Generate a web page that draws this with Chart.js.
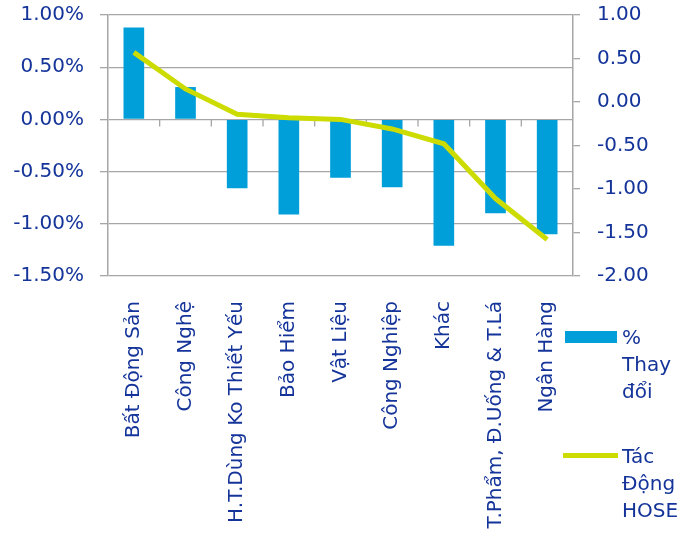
<!DOCTYPE html>
<html>
<head>
<meta charset="utf-8">
<script src="https://cdn.jsdelivr.net/npm/chart.js@4.4.1/dist/chart.umd.min.js"></script>
<style>
  html, body { margin: 0; padding: 0; background: #fff; }
  #wrap { position: relative; width: 690px; height: 553px; overflow: hidden; }
  #legend { position: absolute; left: 0; top: 0; font-family: "DejaVu Sans", sans-serif; font-size: 20px; color: #14349a; }
  .item { position: absolute; }
  .item .txt { position: absolute; width: 68px; line-height: 27px; }
  .item .sw { position: absolute; }
</style>
</head>
<body>
<div id="wrap">
  <canvas id="chart" width="690" height="553"></canvas>
  <div id="legend"></div>
</div>
<script>
// ---- data ----
const categories = [
  "Bất Động Sản", "Công Nghệ", "H.T.Dùng Ko Thiết Yếu", "Bảo Hiểm", "Vật Liệu",
  "Công Nghiệp", "Khác", "T.Phẩm, Đ.Uống & T.Lá", "Ngân Hàng"
];
const pctChange = [0.88, 0.31, -0.66, -0.91, -0.56, -0.65, -1.21, -0.90, -1.10];
const hoseImpact = [0.57, 0.15, -0.14, -0.18, -0.20, -0.31, -0.48, -1.11, -1.58];
const leftTicks = [-1.5, -1.0, -0.5, 0, 0.5, 1.0];
const rightTicks = [-2.0, -1.5, -1.0, -0.5, 0, 0.5, 1.0];

const TEXT = "#14349a";
const GRID = "#a6a6a6";
const BAR = "#009fda";
const LINE = "#cddc00";
const font = { family: "DejaVu Sans", size: 20 };

// kill the extra room chart.js reserves for overhanging tick labels
function noPad(s) {
  s.paddingTop = 0; s.paddingBottom = 0;
  s.paddingLeft = 0; s.paddingRight = 0;
}

// small category tick marks hanging under the zero line
const zeroTicks = {
  id: "zeroTicks",
  beforeDatasetsDraw(chart) {
    const x = chart.scales.x, y = chart.scales.y;
    const y0 = y.getPixelForValue(0);
    const ctx = chart.ctx;
    ctx.save();
    ctx.strokeStyle = GRID;
    ctx.lineWidth = 1.3;
    for (let i = 1; i < categories.length; i++) {
      const px = (x.getPixelForValue(i - 1) + x.getPixelForValue(i)) / 2;
      ctx.beginPath();
      ctx.moveTo(px, y0);
      ctx.lineTo(px, y0 + 7);
      ctx.stroke();
    }
    ctx.restore();
  }
};

const chart = new Chart(document.getElementById("chart"), {
  data: {
    labels: categories,
    datasets: [
      {
        type: "line",
        label: "Tác Động HOSE",
        data: hoseImpact,
        yAxisID: "y1",
        borderColor: LINE,
        backgroundColor: LINE,
        borderWidth: 5,
        pointRadius: 0,
        tension: 0,
        order: 0
      },
      {
        type: "bar",
        label: "% Thay đổi",
        data: pctChange,
        yAxisID: "y",
        backgroundColor: BAR,
        barPercentage: 0.4,
        categoryPercentage: 1,
        order: 1
      }
    ]
  },
  options: {
    responsive: false,
    animation: false,
    layout: { padding: { top: 15 } },
    plugins: { legend: { display: false }, tooltip: { enabled: false } },
    scales: {
      x: {
        offset: true,
        grid: { display: false },
        border: { display: false },
        ticks: {
          color: TEXT, font, autoSkip: false,
          minRotation: 90, maxRotation: 90, padding: 17
        },
        afterFit(s) { s.height = 277; noPad(s); }
      },
      y: {
        position: "left",
        min: -1.5, max: 1,
        afterBuildTicks(s) { s.ticks = leftTicks.map(v => ({ value: v })); },
        grid: { color: GRID, lineWidth: 1.3, tickLength: 8 },
        border: { color: GRID, width: 1.5 },
        ticks: { color: TEXT, font, padding: 16, callback: v => v.toFixed(2) + "%" },
        afterFit(s) { s.width = 108; noPad(s); }
      },
      y1: {
        position: "right",
        min: -2, max: 1,
        afterBuildTicks(s) { s.ticks = rightTicks.map(v => ({ value: v })); },
        grid: { drawOnChartArea: false, color: GRID, lineWidth: 1.3, tickLength: 7 },
        border: { color: GRID, width: 1.5 },
        ticks: { color: TEXT, font, padding: 17, callback: v => v.toFixed(2) },
        afterFit(s) { s.width = 117; noPad(s); }
      }
    }
  },
  plugins: [zeroTicks]
});

// html legend built from the datasets (bar first, then line)
const legend = document.getElementById("legend");
const spots = [
  { ds: chart.data.datasets[1], top: 324, sw: { left: 565, top: 331, width: 52, height: 12 } },
  { ds: chart.data.datasets[0], top: 443, sw: { left: 563, top: 453, width: 55, height: 5 } }
];
spots.forEach(s => {
  const sw = document.createElement("div");
  sw.className = "sw";
  sw.style.cssText = `left:${s.sw.left}px;top:${s.sw.top}px;width:${s.sw.width}px;height:${s.sw.height}px;background:${s.ds.type === "bar" ? s.ds.backgroundColor : s.ds.borderColor}`;
  const txt = document.createElement("div");
  txt.className = "txt";
  txt.style.cssText = `left:622px;top:${s.top}px`;
  txt.textContent = s.ds.label;
  const item = document.createElement("div");
  item.className = "item";
  item.appendChild(sw);
  item.appendChild(txt);
  legend.appendChild(item);
});
</script>
</body>
</html>
